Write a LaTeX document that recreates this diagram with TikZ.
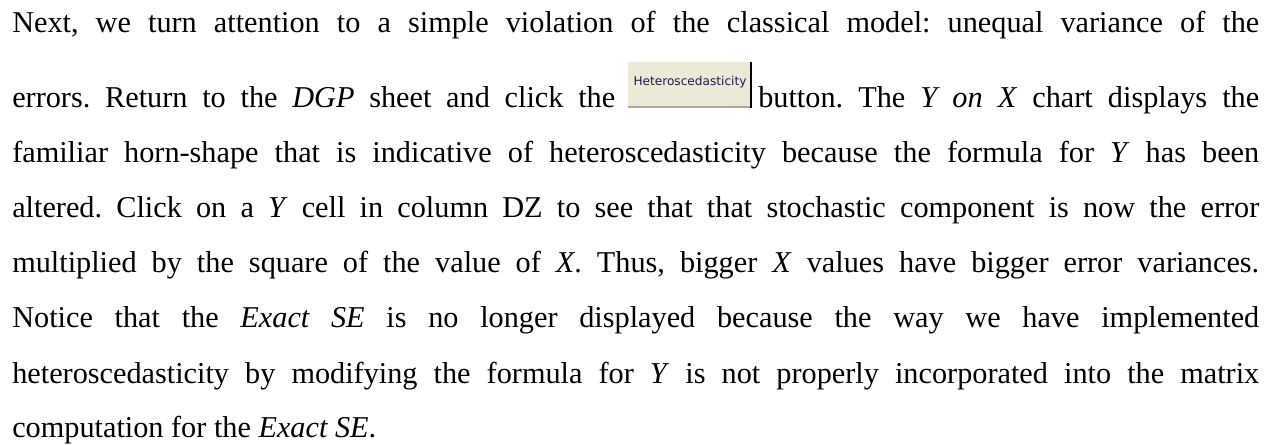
\documentclass[tikz,border=0pt]{standalone}
\usepackage{fontspec}
\setmainfont{Liberation Serif}
\newfontfamily\btnfont{DejaVu Sans}
\definecolor{btnface}{HTML}{ECE9D8}
\definecolor{btnshade}{HTML}{ACA899}
\definecolor{btntext}{HTML}{1F1A4F}
\frenchspacing
\begin{document}
\begin{tikzpicture}[x=0.75pt, y=-0.75pt,
  txt/.style={anchor=base west, inner sep=0pt, font=\fontsize{22.7}{27}\selectfont},
  btnlabel/.style={anchor=base, inner sep=0pt, text=btntext, font=\btnfont\fontsize{9.1}{11}\selectfont}]
  \useasboundingbox[fill=white] (0,0) rectangle (1271,445);
  % justified lines of the paragraph, one node per line
  \node[txt] (l1) at (12,33) {\makebox[935.25pt][s]{Next, we turn attention to a simple violation of the classical model: unequal variance of the}};
  \node[txt] (l2a) at (12,108) {\makebox[452.25pt][s]{errors. Return to the \textit{DGP} sheet and click the}};
  \node[txt] (l2b) at (758,108) {\makebox[375.75pt][s]{button. The \textit{Y on X} chart displays the}};
  \node[txt] (l3) at (12,163) {\makebox[935.25pt][s]{familiar horn-shape that is indicative of heteroscedasticity because the formula for \textit{Y} has been}};
  \node[txt] (l4) at (12,218) {\makebox[935.25pt][s]{altered. Click on a \textit{Y} cell in column DZ to see that that stochastic component is now the error}};
  \node[txt] (l5) at (12,273) {\makebox[935.25pt][s]{multiplied by the square of the value of \textit{X}. Thus, bigger \textit{X} values have bigger error variances.}};
  \node[txt] (l6) at (12,328) {\makebox[935.25pt][s]{Notice that the \textit{Exact SE} is no longer displayed because the way we have implemented}};
  \node[txt] (l7) at (12,383) {\makebox[935.25pt][s]{heteroscedasticity by modifying the formula for \textit{Y} is not properly incorporated into the matrix}};
  \node[txt] (l8) at (12,437) {computation for the \textit{Exact SE}.};
  % the inline button
  \fill[btnface] (628,62) rectangle (752,108);
  \draw[btnshade, line width=1.5pt] (628,107) -- (750,107);
  \draw[black, line width=1.5pt] (751,62) -- (751,108);
  \node[btnlabel] (btn) at (690,86) {Heteroscedasticity};
\end{tikzpicture}
\end{document}
